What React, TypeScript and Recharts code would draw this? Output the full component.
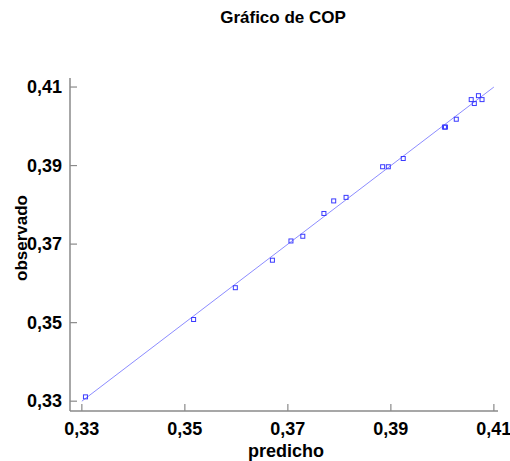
import React from "react";
import { ScatterChart, Scatter, XAxis, YAxis } from "recharts";

const predicho = [0.3307, 0.3517, 0.3598, 0.367, 0.3706, 0.3729, 0.377, 0.3789, 0.3813, 0.3884, 0.3895, 0.3924, 0.4004, 0.4006, 0.4027, 0.4056, 0.4062, 0.407, 0.4077];
const observado = [0.3311, 0.3508, 0.3589, 0.3659, 0.3708, 0.372, 0.3778, 0.381, 0.3819, 0.3897, 0.3897, 0.3918, 0.3998, 0.3998, 0.4018, 0.4068, 0.4058, 0.4078, 0.4068];
const fitLine = [0.33, 0.41];
const ticks = [0.33, 0.35, 0.37, 0.39, 0.41];

const points = predicho.map((x, i) => ({ x, y: observado[i] }));
const linePts = fitLine.map((v) => ({ x: v, y: v }));

const fmt = (v: number) => v.toFixed(2).replace(".", ",");
const AXIS = "#8a8a8a";
const FONT = "'Liberation Sans', Arial, sans-serif";

function BottomTick({ x, y, payload }: any) {
    return (
        <g>
            <line x1={x} y1={y} x2={x} y2={y - 7} stroke={AXIS} strokeWidth={1.2} />
            <text x={x} y={y + 24} textAnchor="middle" fontSize={18} fontWeight="bold" fontFamily={FONT} fill="#000">{fmt(payload.value)}</text>
        </g>
    );
}
function TopTick({ x, y }: any) {
    return <line x1={x} y1={y} x2={x} y2={y + 7} stroke={AXIS} strokeWidth={1.2} />;
}
function LeftTick({ x, y, payload }: any) {
    return (
        <g>
            <line x1={x} y1={y} x2={x + 7} y2={y} stroke={AXIS} strokeWidth={1.2} />
            <text x={x - 8} y={y + 6} textAnchor="end" fontSize={18} fontWeight="bold" fontFamily={FONT} fill="#000">{fmt(payload.value)}</text>
        </g>
    );
}
function RightTick({ x, y }: any) {
    return <line x1={x} y1={y} x2={x - 7} y2={y} stroke={AXIS} strokeWidth={1.2} />;
}
function Square({ cx, cy }: any) {
    return <rect x={cx - 2} y={cy - 2} width={4} height={4} fill="none" stroke="#3a3aff" strokeWidth={1} />;
}

export default function App() {
    const xDomain = [0.3277, 0.4108];
    const yDomain = [0.3275, 0.4123];
    return (
        <div style={{ position: "absolute", left: 0, top: 0, width: 510, height: 461, background: "#fff", fontFamily: FONT }}>
            <div style={{ position: "absolute", left: 0, width: 566, top: 8, textAlign: "center", fontSize: 17, fontWeight: "bold" }}>Gráfico de COP</div>
            <div style={{ position: "absolute", left: 286, top: 441, transform: "translateX(-50%)", fontSize: 18, fontWeight: "bold" }}>predicho</div>
            <div style={{ position: "absolute", left: 22, top: 238, transform: "translate(-50%, -50%) rotate(-90deg)", fontSize: 17, fontWeight: "bold", whiteSpace: "nowrap" }}>observado</div>
            <ScatterChart width={510} height={461} margin={{ top: 78, right: 12, bottom: 20, left: 10 }}>
                <XAxis xAxisId="b" type="number" dataKey="x" domain={xDomain} ticks={ticks} allowDataOverflow height={30} tickSize={0} tickMargin={0} tickLine={false} axisLine={{ stroke: AXIS, strokeWidth: 1.5 }} tick={<BottomTick />} />
                <XAxis xAxisId="t" orientation="top" type="number" dataKey="x" domain={xDomain} ticks={ticks} allowDataOverflow height={0} tickSize={0} tickMargin={0} tickLine={false} axisLine={{ stroke: AXIS, strokeWidth: 1.5 }} tick={<TopTick />} />
                <YAxis yAxisId="l" type="number" dataKey="y" domain={yDomain} ticks={ticks} allowDataOverflow width={60} tickSize={0} tickMargin={0} tickLine={false} axisLine={{ stroke: AXIS, strokeWidth: 1.5 }} tick={<LeftTick />} />
                <YAxis yAxisId="r" orientation="right" type="number" dataKey="y" domain={yDomain} ticks={ticks} allowDataOverflow width={0} tickSize={0} tickMargin={0} tickLine={false} axisLine={{ stroke: AXIS, strokeWidth: 1.5 }} tick={<RightTick />} />
                <Scatter xAxisId="b" yAxisId="l" data={linePts} line={{ stroke: "#8c8cff", strokeWidth: 1 }} shape={() => <g />} isAnimationActive={false} />
                <Scatter xAxisId="b" yAxisId="l" data={points} shape={<Square />} isAnimationActive={false} />
            </ScatterChart>
        </div>
    );
}
